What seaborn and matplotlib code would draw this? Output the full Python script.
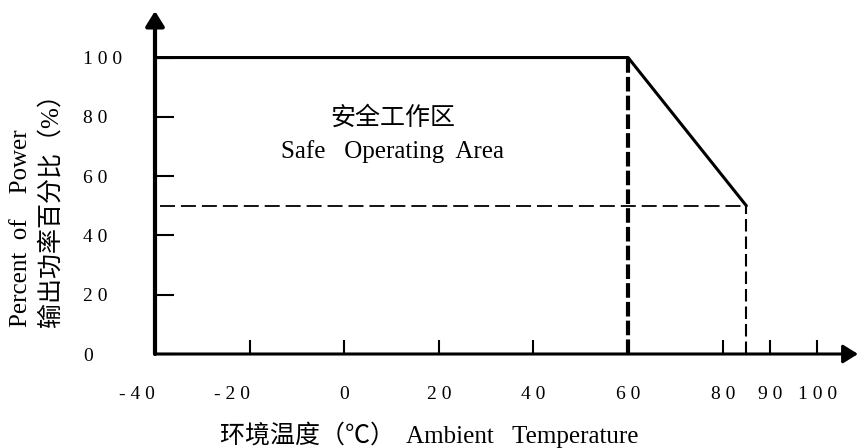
import matplotlib
matplotlib.use("Agg")
import matplotlib.pyplot as plt
import seaborn as sns

# derating curve: full power up to 60 C, then linear down to 50% at 85 C
temp = [-40, 60, 85]
power = [100, 100, 50]

x_ticks = [-40, -20, 0, 20, 40, 60, 80, 90, 100]
x_labels = ["- 4 0", "- 2 0", "0", "2 0", "4 0", "6 0", "8 0", "9 0", "1 0 0"]
y_ticks = [0, 20, 40, 60, 80, 100]
y_labels = ["0", "2 0", "4 0", "6 0", "8 0", "1 0 0"]

sns.set_theme(style="white")
fonts = ["Liberation Serif", "Noto Sans CJK SC", "DejaVu Sans"]
plt.rcParams["font.family"] = fonts

fig = plt.figure(figsize=(8.58, 4.48), dpi=100)
ax = fig.add_axes([155 / 858, 94 / 448, 703 / 858, 343 / 448])

# main curve
sns.lineplot(x=temp, y=power, ax=ax, color="black", lw=2.2)

# guide lines
knee_t, end_t, end_p = temp[1], temp[2], power[2]
ax.plot([knee_t, knee_t], [0, power[1]], color="black", lw=3, dashes=(3.5, 1))
ax.plot([end_t, end_t], [0, end_p], color="black", lw=1.5, dashes=(6, 2.4))
ax.plot([-39, end_t], [end_p, end_p], color="black", lw=1.3, dashes=(8.3, 3.3))

ax.set_xlim(-40, 108.6)
ax.set_ylim(0, 115.7)
for s in ax.spines.values():
    s.set_visible(False)

# axes drawn as arrows
arrow = dict(arrowstyle="-|>,head_length=0.45,head_width=0.28", color="black",
             shrinkA=0, shrinkB=0, mutation_scale=20)
ax.annotate("", xy=(0, 1), xycoords="axes fraction", xytext=(0, 0),
            textcoords="axes fraction", arrowprops=dict(arrow, lw=3),
            annotation_clip=False)
ax.annotate("", xy=(1, 0), xycoords="axes fraction", xytext=(0, 0),
            textcoords="axes fraction", arrowprops=dict(arrow, lw=2.2),
            annotation_clip=False)

ax.set_xticks(x_ticks)
ax.set_xticklabels(x_labels, fontsize=14)
ax.set_yticks(y_ticks)
ax.set_yticklabels(y_labels, fontsize=14)
ax.tick_params(axis="x", bottom=True, direction="in", length=10, width=1.5, pad=23,
               colors="black")
ax.tick_params(axis="y", left=True, direction="in", length=14, width=1.5, pad=52,
               colors="black")
for lab in ax.get_yticklabels():
    lab.set_ha("left")
for lab, v in zip(ax.get_xticklabels(), x_ticks):
    if v < 0:
        lab.set_ha("right")

ax.text(10.3, 79.5, "安全工作区", ha="center", va="center", fontsize=18, color="black")
ax.text(10.3, 68.4, "Safe   Operating  Area", ha="center", va="center",
        fontsize=18, color="black")

fig.text(429 / 858, 1 - 435 / 448, "环境温度（℃）  Ambient   Temperature",
         ha="center", va="center", fontsize=18, color="black")
fig.text(21 / 858, 1 - 327 / 448, "Percent  of    Power", rotation=90,
         ha="center", va="bottom", fontsize=18, color="black")
fig.text(51 / 858, 1 - 327 / 448, "输出功率百分比（%）", rotation=90,
         ha="center", va="bottom", fontsize=18, color="black")

fig.savefig("out.png", dpi=100)
